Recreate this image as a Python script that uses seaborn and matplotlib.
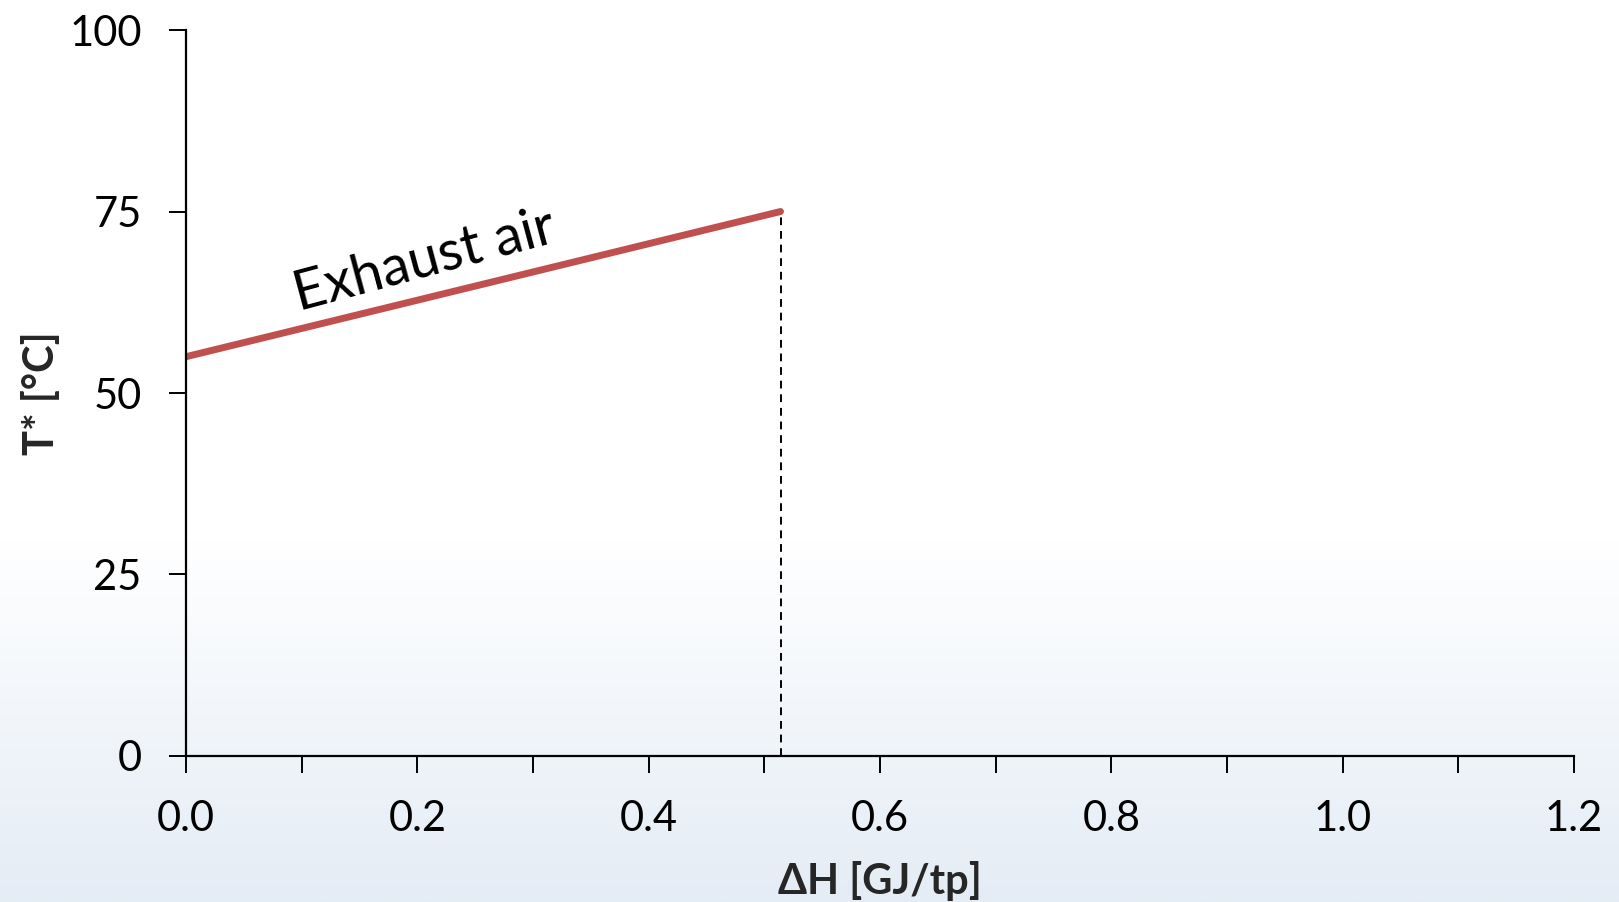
import numpy as np
import pandas as pd
import matplotlib
matplotlib.use("Agg")
import matplotlib.pyplot as plt
import seaborn as sns

# Data
dh_values = [0.0, 0.514]
t_values = [55, 75]
series_label = "Exhaust air"
x_ticks = [0.0, 0.2, 0.4, 0.6, 0.8, 1.0, 1.2]
y_ticks = [0, 25, 50, 75, 100]

sns.set_theme(style="white")
plt.rcParams['font.family'] = ['Lato', 'DejaVu Sans']

fig = plt.figure(figsize=(16.19, 9.02), dpi=100)

# background gradient
bg = fig.add_axes([0, 0, 1, 1], zorder=-10)
h = 400
grad = np.ones((h, 1, 3))
top = np.array([1.0, 1.0, 1.0])
bot = np.array([228, 236, 245]) / 255.0
for i in range(h):
    f = i / (h - 1)  # 0 top -> 1 bottom
    t = 0 if f < 0.6 else (f - 0.6) / 0.4
    grad[i, 0] = top * (1 - t) + bot * t
bg.imshow(grad, aspect="auto", extent=[0, 1, 0, 1])
bg.axis("off")

ax = fig.add_axes([0.1149, 0.1619, 0.9722 - 0.1149, 0.9667 - 0.1619])
ax.patch.set_alpha(0)

df = pd.DataFrame({"dH": dh_values, "T": t_values})
sns.lineplot(data=df, x="dH", y="T", ax=ax, color="#C0504D", linewidth=5,
             solid_capstyle="round")
ax.plot([dh_values[1], dh_values[1]], [0, t_values[1]], color="black",
        linestyle=(0, (4, 3)), linewidth=1.4, zorder=1)

ax.set_xlim(0, 1.2)
ax.set_ylim(0, 100)
ax.set_xticks(x_ticks)
ax.set_xticklabels([f"{v:.1f}" for v in x_ticks])
ax.set_xticks(np.arange(0.1, 1.2, 0.2), minor=True)
ax.set_yticks(y_ticks)

for s in ["top", "right"]:
    ax.spines[s].set_visible(False)
for s in ["left", "bottom"]:
    ax.spines[s].set_color("black")
    ax.spines[s].set_linewidth(1.6)

ax.tick_params(axis="both", which="major", direction="out", length=12,
               width=1.4, color="black", labelsize=30, labelcolor="black")
ax.tick_params(axis="x", which="minor", direction="out", length=12, width=1.4,
               color="black", bottom=True)
ax.tick_params(axis="x", which="major", bottom=True, pad=20)
ax.tick_params(axis="y", which="major", left=True, pad=20)

ax.set_xlabel("ΔH [GJ/tp]", fontsize=30, fontweight="bold", labelpad=16)
ax.set_ylabel("T* [°C]", fontsize=30, fontweight="bold", labelpad=6)
ax.grid(False)

ax.text(0.098, 61.3, series_label, fontsize=40, rotation=15,
        rotation_mode="anchor", ha="left", va="baseline", color="black")

fig.savefig("out.png", dpi=100)
